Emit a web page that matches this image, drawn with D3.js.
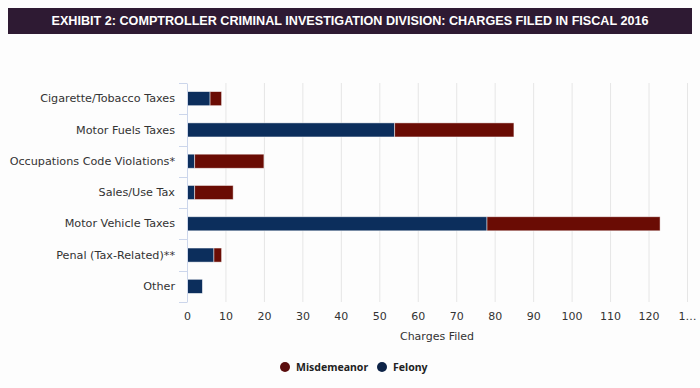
<!DOCTYPE html>
<html>
<head>
<meta charset="utf-8">
<script src="https://cdn.jsdelivr.net/npm/d3@7"></script>
<style>
  body { margin: 0; background: #fdfdfd; }
  svg { display: block; }
</style>
</head>
<body>
<script>
// Data
const categories = [
  "Cigarette/Tobacco Taxes",
  "Motor Fuels Taxes",
  "Occupations Code Violations*",
  "Sales/Use Tax",
  "Motor Vehicle Taxes",
  "Penal (Tax-Related)**",
  "Other",
];
const felony = [6, 54, 2, 2, 78, 7, 4];
const misdemeanor = [3, 31, 18, 10, 45, 2, 0];
const xTicks = [0, 10, 20, 30, 40, 50, 60, 70, 80, 90, 100, 110, 120, 130];
const xTickLabels = ["0", "10", "20", "30", "40", "50", "60", "70", "80", "90", "100", "110", "120", "1…"];
const title = "EXHIBIT 2: COMPTROLLER CRIMINAL INVESTIGATION DIVISION: CHARGES FILED IN FISCAL 2016";

const width = 700;
const height = 388;
const marginLeft = 187;
const marginRight = 13;
const marginTop = 83;
const plotBottom = 302;

const colors = { Felony: "#0c2e5c", Misdemeanor: "#6a0c04" };
const legendColors = { Felony: "#0d2347", Misdemeanor: "#5a0d0d" };
const labelFont = "DejaVu Sans, Verdana, sans-serif";

// Stack data
const rows = categories.map((c, i) => ({
  category: c,
  Felony: felony[i],
  Misdemeanor: misdemeanor[i],
}));
const series = d3.stack().keys(["Felony", "Misdemeanor"])(rows);

// Scales
const xScale = d3.scaleLinear().domain([0, 130]).range([marginLeft, width - marginRight]);
const yScale = d3.scaleBand().domain(categories).range([marginTop, plotBottom]).paddingInner(0.55).paddingOuter(0.275);
const yBands = d3.scaleBand().domain(categories).range([marginTop, plotBottom]).padding(0);

const svg = d3.select("body").append("svg")
  .attr("width", width)
  .attr("height", height)
  .attr("viewBox", [0, 0, width, height]);

// Title bar
svg.append("rect")
  .attr("x", 8).attr("y", 8)
  .attr("width", 684).attr("height", 26)
  .attr("fill", "#2e1a33");

svg.append("text")
  .attr("x", width / 2).attr("y", 21)
  .attr("text-anchor", "middle")
  .attr("dominant-baseline", "central")
  .attr("font-family", "Liberation Sans, Arial, sans-serif")
  .attr("font-weight", 700)
  .attr("font-size", 12.5)
  .attr("fill", "#fff")
  .attr("textLength", 597)
  .attr("lengthAdjust", "spacingAndGlyphs")
  .text(title);

// Gridlines
svg.append("g")
  .attr("class", "grid")
  .selectAll("line")
  .data(xTicks.slice(1))
  .join("line")
  .attr("x1", (d) => xScale(d) + 0.5)
  .attr("x2", (d) => xScale(d) + 0.5)
  .attr("y1", marginTop)
  .attr("y2", plotBottom)
  .attr("stroke", "#e6e6e6")
  .attr("stroke-width", 1);

// Bars
svg.append("g")
  .selectAll("g")
  .data(series)
  .join("g")
  .attr("fill", (s) => colors[s.key])
  .selectAll("rect")
  .data((s) => s.filter((d) => d[1] > d[0]))
  .join("rect")
  .attr("x", (d) => xScale(d[0]))
  .attr("y", (d) => yScale(d.data.category))
  .attr("width", (d) => xScale(d[1]) - xScale(d[0]))
  .attr("height", yScale.bandwidth())
  .attr("stroke", "#fff")
  .attr("stroke-opacity", 0.6)
  .attr("stroke-width", 0.8);

// Y axis
const yAxisG = svg.append("g")
  .attr("transform", `translate(${marginLeft},0)`)
  .call(d3.axisLeft(yBands).tickSize(0).tickPadding(12));
yAxisG.select(".domain").attr("stroke", "#ccd6eb");
yAxisG.selectAll("text")
  .attr("font-family", labelFont)
  .attr("font-size", 11.2)
  .attr("fill", "#333");

// Category boundary ticks
const boundaries = categories.map((c) => yBands(c)).concat([plotBottom]);
svg.append("g")
  .selectAll("line")
  .data(boundaries)
  .join("line")
  .attr("x1", marginLeft - 8)
  .attr("x2", marginLeft)
  .attr("y1", (d) => Math.round(d) + 0.5)
  .attr("y2", (d) => Math.round(d) + 0.5)
  .attr("stroke", "#ccd6eb");

// X axis
const xAxisG = svg.append("g")
  .attr("transform", `translate(0,${plotBottom})`)
  .call(
    d3.axisBottom(xScale)
      .tickValues(xTicks)
      .tickFormat((d, i) => xTickLabels[i])
      .tickSize(0)
      .tickPadding(10),
  );
xAxisG.select(".domain").remove();
xAxisG.selectAll("text")
  .attr("font-family", labelFont)
  .attr("font-size", 11)
  .attr("fill", "#333");

// X axis title
svg.append("text")
  .attr("x", (marginLeft + width - marginRight) / 2)
  .attr("y", 340)
  .attr("text-anchor", "middle")
  .attr("font-family", labelFont)
  .attr("font-size", 11)
  .attr("fill", "#333")
  .text("Charges Filed");

// Legend
const legendItems = [
  { key: "Misdemeanor", x: 285 },
  { key: "Felony", x: 382 },
];
const legend = svg.append("g")
  .selectAll("g")
  .data(legendItems)
  .join("g")
  .attr("transform", (d) => `translate(${d.x},367)`);
legend.append("circle")
  .attr("r", 5)
  .attr("fill", (d) => legendColors[d.key]);
legend.append("text")
  .attr("x", 11)
  .attr("dominant-baseline", "central")
  .attr("font-family", "Noto Sans, Open Sans, sans-serif")
  .attr("font-size", 10.5)
  .attr("font-weight", 700)
  .attr("fill", "#222")
  .text((d) => d.key);
</script>
</body>
</html>
